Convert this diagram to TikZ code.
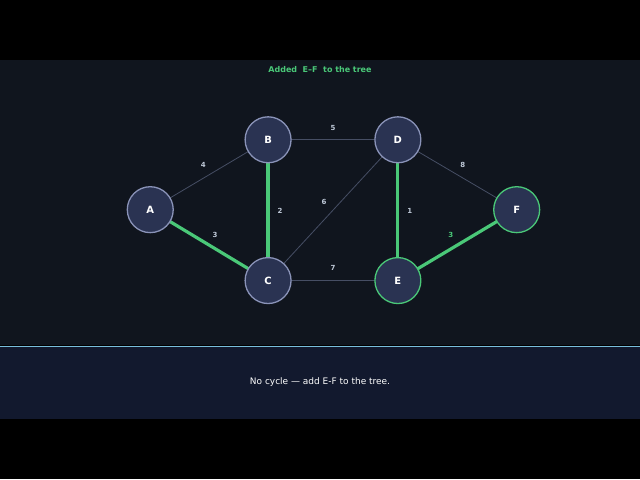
\documentclass[tikz,border=0pt]{standalone}
\usepackage{fontspec}
\setmainfont{DejaVu Sans}
\definecolor{nfill}{RGB}{42,51,82}
\definecolor{nline}{RGB}{138,147,184}
\definecolor{grn}{RGB}{74,200,120}
\definecolor{edg}{RGB}{70,78,100}
\definecolor{wtxt}{RGB}{190,200,215}
\definecolor{bgtop}{RGB}{16,21,30}
\definecolor{bgbot}{RGB}{18,25,46}
\definecolor{sep}{RGB}{120,190,220}
\begin{document}
\begin{tikzpicture}[x=1pt,y=-1pt,
 nd/.style={circle,minimum size=46pt,inner sep=0pt,fill=nfill,draw=nline,line width=1.3pt,text=white,font=\bfseries\fontsize{10}{12}\selectfont},
 ndg/.style={nd,draw=grn},
 ed/.style={draw=edg,line width=0.8pt},
 tr/.style={draw=grn,line width=3.2pt},
 wl/.style={text=wtxt,font=\bfseries\fontsize{7}{8}\selectfont},
 wg/.style={wl,text=grn}]
\fill[black] (0,0) rectangle (640,480);
\fill[bgtop] (0,60) rectangle (640,346);
\fill[bgbot] (0,347) rectangle (640,420);
\draw[sep,line width=1pt] (0,347)--(640,347);
\node[font=\bfseries\fontsize{8}{10}\selectfont,text=grn] (t) at (320,70) {Added\ \ E–F\ \ to the tree};
\node[font=\fontsize{9}{11}\selectfont,text=white] (cap) at (320,383) {No cycle — add E-F to the tree.};
\coordinate (pA) at (150,210); \coordinate (pB) at (268,140); \coordinate (pD) at (398,140);
\coordinate (pF) at (517,210); \coordinate (pC) at (268,281); \coordinate (pE) at (398,281);
\draw[ed] (pA)--(pB); \draw[ed] (pB)--(pD); \draw[ed] (pD)--(pF); \draw[ed] (pC)--(pD); \draw[ed] (pC)--(pE);
\draw[tr] (pA)--(pC); \draw[tr] (pB)--(pC); \draw[tr] (pD)--(pE); \draw[tr] (pE)--(pF);
\node[nd] (A) at (pA) {A}; \node[nd] (B) at (pB) {B}; \node[nd] (D) at (pD) {D};
\node[ndg] (F) at (pF) {F}; \node[nd] (C) at (pC) {C}; \node[ndg] (E) at (pE) {E};
\node[wl] (w1) at (203,165) {4}; \node[wl] (w2) at (333,128) {5}; \node[wl] (w3) at (463,165) {8};
\node[wl] (w4) at (280,211) {2}; \node[wl] (w5) at (324,202) {6}; \node[wl] (w6) at (410,211) {1};
\node[wl] (w7) at (215,235) {3}; \node[wl] (w8) at (333,268) {7}; \node[wg] (w9) at (451,235) {3};
\end{tikzpicture}
\end{document}
